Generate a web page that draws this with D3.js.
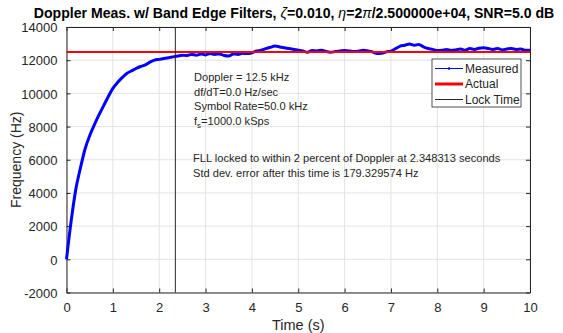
<!DOCTYPE html>
<html>
<head>
<meta charset="utf-8">
<script src="https://cdn.jsdelivr.net/npm/d3@7"></script>
<style>
  body { margin: 0; background: #fff; }
  svg text { font-family: "Liberation Sans", Arial, sans-serif; fill: #262626; }
</style>
</head>
<body>
<svg id="chart" width="563" height="333"></svg>
<script>
// ---- data ----
var time = [0.0,0.1,0.2,0.3,0.4,0.5,0.6,0.7,0.8,0.9,
  1.0,1.1,1.2,1.3,1.4,1.5,1.6,1.7,1.8,1.9,
  2.0,2.1,2.2,2.3,2.4,2.5,2.6,2.7,2.8,2.9,
  3.0,3.1,3.2,3.3,3.4,3.5,3.6,3.7,3.8,3.9,
  4.0,4.1,4.2,4.3,4.4,4.5,4.6,4.7,4.8,4.9,
  5.0,5.1,5.2,5.3,5.4,5.5,5.6,5.7,5.8,5.9,
  6.0,6.1,6.2,6.3,6.4,6.5,6.6,6.7,6.8,6.9,
  7.0,7.1,7.2,7.3,7.4,7.5,7.6,7.7,7.8,7.9,
  8.0,8.1,8.2,8.3,8.4,8.5,8.6,8.7,8.8,8.9,
  9.0,9.1,9.2,9.3,9.4,9.5,9.6,9.7,9.8,9.9,10.0];
var measured = [0,2300,4200,5500,6650,7450,8100,8700,9250,9800,
  10300,10650,10950,11200,11350,11500,11620,11720,11880,12000,
  12050,12100,12150,12200,12250,12300,12280,12350,12300,12380,
  12320,12400,12350,12380,12280,12250,12380,12350,12420,12400,
  12450,12550,12600,12700,12780,12850,12800,12750,12700,12650,
  12600,12550,12480,12580,12560,12600,12520,12480,12520,12550,
  12580,12560,12520,12540,12600,12560,12500,12400,12420,12500,
  12550,12700,12850,12900,12980,12900,12950,12800,12700,12650,
  12580,12600,12650,12580,12620,12680,12600,12700,12650,12720,
  12750,12700,12650,12700,12620,12680,12700,12650,12680,12600,12600];
var actualDoppler = 12500;
var lockTime = 2.348313;
var xTicks = [0,1,2,3,4,5,6,7,8,9,10];
var yTicks = [-2000,0,2000,4000,6000,8000,10000,12000,14000];
var infoLines = ["Doppler = 12.5 kHz", "df/dT=0.0 Hz/sec", "Symbol Rate=50.0 kHz"];
var lockLines = ["FLL locked to within 2 percent of Doppler at 2.348313 seconds",
  "Std dev. error after this time is 179.329574 Hz"];
var legendItems = [
  { label: "Measured", color: "#0000ff", width: 1, dot: true },
  { label: "Actual", color: "#ff0000", width: 3 },
  { label: "Lock Time", color: "#262626", width: 1 }
];

var svg = d3.select("#chart");
var L = 66.5, R = 530, T = 27, B = 292.5;

var x = d3.scaleLinear().domain([0, 10]).range([L, R]);
var y = d3.scaleLinear().domain([-2000, 14000]).range([B, T]);

// grid
svg.append("g").selectAll("line").data(xTicks).enter().append("line")
  .attr("x1", function(d) { return x(d); }).attr("x2", function(d) { return x(d); })
  .attr("y1", T).attr("y2", B)
  .attr("stroke", "#e3e3e3").attr("stroke-width", 1);
svg.append("g").selectAll("line").data(yTicks).enter().append("line")
  .attr("x1", L).attr("x2", R)
  .attr("y1", function(d) { return y(d); }).attr("y2", function(d) { return y(d); })
  .attr("stroke", "#e3e3e3").attr("stroke-width", 1);

// axes (ticks pointing inward, box on)
var xAxis = svg.append("g").attr("transform", "translate(0," + B + ")")
  .call(d3.axisBottom(x).tickValues(xTicks).tickSizeInner(-4).tickSizeOuter(0).tickPadding(10).tickFormat(d3.format("d")));
var xTop = svg.append("g").attr("transform", "translate(0," + T + ")")
  .call(d3.axisTop(x).tickValues(xTicks).tickSizeInner(-4).tickSizeOuter(0).tickFormat(""));
var yAxis = svg.append("g").attr("transform", "translate(" + L + ",0)")
  .call(d3.axisLeft(y).tickValues(yTicks).tickSizeInner(-4).tickSizeOuter(0).tickPadding(9).tickFormat(d3.format("d")));
var yRight = svg.append("g").attr("transform", "translate(" + R + ",0)")
  .call(d3.axisRight(y).tickValues(yTicks).tickSizeInner(-4).tickSizeOuter(0).tickFormat(""));
[xAxis, xTop, yAxis, yRight].forEach(function(g) {
  g.selectAll("path").attr("stroke", "#262626");
  g.selectAll("line").attr("stroke", "#262626");
  g.selectAll("text").attr("font-size", "13px").attr("fill", "#262626")
    .style("font-family", "'Liberation Sans', Arial, sans-serif");
});
yAxis.selectAll("text").attr("dy", "0.36em").text(function(d) { return d < 0 ? "-" + Math.abs(d) : d; });

// lines
svg.append("path").datum(time.map(function(t, i) { return [t, measured[i]]; }))
  .attr("fill", "none").attr("stroke", "#0000ff").attr("stroke-width", 3)
  .attr("stroke-linejoin", "round")
  .attr("d", d3.line().curve(d3.curveMonotoneX).x(function(d) { return x(d[0]); }).y(function(d) { return y(d[1]); }));

svg.append("line")
  .attr("x1", x(0)).attr("x2", x(10))
  .attr("y1", y(actualDoppler)).attr("y2", y(actualDoppler))
  .attr("stroke", "#ff0000").attr("stroke-width", 2);

svg.append("line")
  .attr("x1", x(lockTime)).attr("x2", x(lockTime))
  .attr("y1", y(-2000)).attr("y2", y(14000))
  .attr("stroke", "#262626").attr("stroke-width", 1);

// annotations
var info = svg.append("text").attr("x", 194).attr("y", 81).attr("font-size", "11.1px");
infoLines.forEach(function(s, i) {
  info.append("tspan").attr("x", 194).attr("dy", i === 0 ? 0 : 14.5).text(s);
});
info.append("tspan").attr("x", 194).attr("dy", 14.5).text("f");
info.append("tspan").attr("font-size", "8px").attr("dy", 3).text("s");
info.append("tspan").attr("dy", -3).text("=1000.0 kSps");

var lock = svg.append("text").attr("x", 193).attr("y", 162).attr("font-size", "11.1px");
lockLines.forEach(function(s, i) {
  lock.append("tspan").attr("x", 193).attr("dy", i === 0 ? 0 : 15).text(s);
});

// legend
var lg = svg.append("g").attr("transform", "translate(432,59)");
lg.append("rect").attr("width", 89).attr("height", 48)
  .attr("fill", "#fff").attr("stroke", "#262626").attr("stroke-width", 0.8);
legendItems.forEach(function(d, i) {
  var row = lg.append("g").attr("transform", "translate(0," + (9.5 + i * 15.5) + ")");
  row.append("line").attr("x1", 3).attr("x2", 31).attr("y1", 0).attr("y2", 0)
    .attr("stroke", d.color).attr("stroke-width", d.width);
  if (d.dot) row.append("circle").attr("cx", 17).attr("cy", 0).attr("r", 1.3).attr("fill", d.color);
  row.append("text").attr("x", 33).attr("y", 0).attr("dy", "0.36em")
    .attr("font-size", "12px").text(d.label);
});

// axis labels
svg.append("text").attr("x", (L + R) / 2).attr("y", 330).attr("text-anchor", "middle")
  .attr("font-size", "14.5px").text("Time (s)");
svg.append("text").attr("transform", "translate(21," + ((T + B) / 2) + ") rotate(-90)")
  .attr("text-anchor", "middle").attr("font-size", "14px").text("Frequency (Hz)");

// title
var title = svg.append("text").attr("x", 294).attr("y", 18).attr("text-anchor", "middle")
  .attr("font-size", "14.1px").attr("font-weight", "bold").style("fill", "#000");
title.append("tspan").text("Doppler Meas. w/ Band Edge Filters, ");
title.append("tspan").attr("font-style", "italic").attr("font-weight", "normal").text("\u03b6");
title.append("tspan").text("=0.010, ");
title.append("tspan").attr("font-style", "italic").attr("font-weight", "normal").text("\u03b7");
title.append("tspan").text("=2");
title.append("tspan").attr("font-style", "italic").attr("font-weight", "normal").text("\u03c0");
title.append("tspan").text("/2.500000e+04, SNR=5.0 dB");
</script>
</body>
</html>
